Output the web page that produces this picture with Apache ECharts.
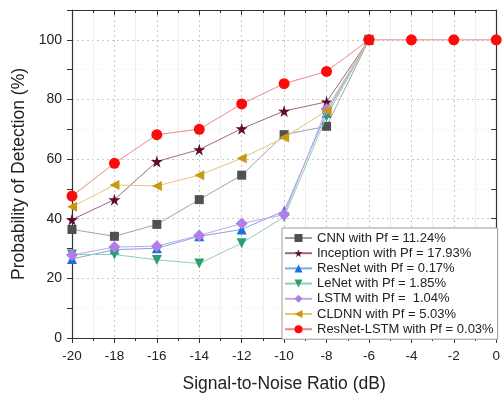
<!DOCTYPE html>
<html><head><meta charset="utf-8">
<script src="https://cdn.jsdelivr.net/npm/echarts@6/dist/echarts.min.js"></script>
<style>html,body{margin:0;padding:0;background:#fff}#c{width:503px;height:398px}</style>
</head><body><div id="c"></div>
<script>
var snr = [-20, -18, -16, -14, -12, -10, -8, -6, -4, -2, 0];
var cnn = [36.4, 34.1, 38.1, 46.4, 54.6, 68.2, 71.0, 100];
var inception = [39.7, 46.4, 59.2, 63.2, 70.2, 76.1, 79.2, 100];
var resnet = [26.5, 29.6, 30.1, 34.1, 36.4, 42.6, 75.5, 100];
var lenet = [28.0, 28.0, 26.2, 25.0, 31.8, 40.6, 74.3, 100];
var lstm = [27.8, 30.5, 30.8, 34.4, 38.4, 41.4, 76.8, 100];
var cldnn = [44.0, 51.3, 51.0, 54.6, 60.3, 67.2, 76.2, 100];
var resnetLstm = [47.6, 58.6, 68.2, 70.0, 78.5, 85.3, 89.4, 100, 100, 100, 100];
var names = ['CNN with Pf = 11.24%', 'Inception with Pf = 17.93%', 'ResNet with Pf = 0.17%',
  'LeNet with Pf = 1.85%', 'LSTM with Pf =  1.04%', 'CLDNN with Pf = 5.03%', 'ResNet-LSTM with Pf = 0.03%'];
var yTicks = [0, 20, 40, 60, 80, 100];

function pairs(v){ return v.map(function(y,i){ return [snr[i], y]; }); }
var star = 'path://M50,0 L61,35 L98,35 L68,57 L79,91 L50,70 L21,91 L32,57 L2,35 L39,35 Z';
var specs = [
  {d: cnn, sym: 'rect', size: 9, rot: 0, mc: '#505050', lc: '#a3a3a3'},
  {d: inception, sym: star, size: 12, rot: 0, mc: '#5e0b30', lc: '#9a6a84'},
  {d: resnet, sym: 'triangle', size: 10, rot: 0, mc: '#1a6fd9', lc: '#7fa9e6'},
  {d: lenet, sym: 'triangle', size: 10, rot: 180, mc: '#2e9e6e', lc: '#8fcfb3'},
  {d: lstm, sym: 'diamond', size: 12, rot: 0, mc: '#b07ee6', lc: '#c5a5ef'},
  {d: cldnn, sym: 'triangle', size: 10, rot: 90, mc: '#c99a10', lc: '#e2c870'},
  {d: resnetLstm, sym: 'circle', size: 11, rot: 0, mc: '#ff0a0a', lc: '#f08888'}
];
var series = specs.map(function(s, i){
  return {name: names[i], type: 'line', data: pairs(s.d), symbol: s.sym, symbolSize: s.size,
    symbolRotate: s.rot, showSymbol: true, z: 2 + i,
    itemStyle: {color: s.mc, opacity: 1}, lineStyle: {color: s.lc, width: 1}, emphasis: {disabled: true}};
});
var F = 'Liberation Sans, Arial, sans-serif';
var chart = echarts.init(document.getElementById('c'), null, {renderer: 'canvas'});
chart.setOption({
  animation: false,
  backgroundColor: '#fff',
  grid: {left: 72, right: 4, top: 10, bottom: 57},
  xAxis: [{
    type: 'value', min: -20, max: 0, interval: 2, position: 'bottom',
    name: 'Signal-to-Noise Ratio (dB)', nameLocation: 'middle', nameGap: 37,
    nameTextStyle: {fontFamily: F, fontSize: 17.5, color: '#222'},
    axisLine: {show: true, onZero: false, lineStyle: {color: '#333', width: 1.2}},
    axisTick: {show: true, inside: false, length: 5, lineStyle: {color: '#333'}},
    minorTick: {show: true, splitNumber: 2, length: 3, lineStyle: {color: '#333'}},
    axisLabel: {fontFamily: F, fontSize: 13.5, color: '#222', margin: 11},
    splitLine: {show: true, lineStyle: {color: '#c8c8c8', type: [2, 3], width: 1}},
    minorSplitLine: {show: true, lineStyle: {color: '#efefef', width: 1}}
  }, {
    type: 'value', min: -20, max: 0, interval: 2, position: 'top',
    axisLine: {show: true, onZero: false, lineStyle: {color: '#333', width: 1.2}},
    axisTick: {show: true, inside: true, length: 5, lineStyle: {color: '#333'}},
    minorTick: {show: true, splitNumber: 2, length: 3, lineStyle: {color: '#333'}},
    axisLabel: {show: false}, splitLine: {show: false}
  }],
  yAxis: [{
    type: 'value', min: 0, max: 110, interval: 10, position: 'left',
    name: 'Probability of Detection (%)', nameLocation: 'middle', nameGap: 34,
    nameTextStyle: {fontFamily: F, fontSize: 17.5, color: '#222'},
    axisLine: {show: true, onZero: false, lineStyle: {color: '#333', width: 1.2}},
    axisTick: {show: true, inside: false, length: 5, lineStyle: {color: '#333'}},
    axisLabel: {fontFamily: F, fontSize: 14, color: '#222', margin: 10,
      formatter: function(v){ return yTicks.indexOf(v) >= 0 ? String(v) : ''; }},
    splitLine: {show: true, lineStyle: {color: ['#c8c8c8', '#efefef'], type: [2, 3], width: 1}}
  }, {
    type: 'value', min: 0, max: 110, interval: 10, position: 'right',
    axisLine: {show: true, onZero: false, lineStyle: {color: '#333', width: 1.2}},
    axisTick: {show: true, inside: true, length: 5, lineStyle: {color: '#333'}},
    axisLabel: {show: false}, splitLine: {show: false}
  }],
  legend: {
    orient: 'vertical', left: 282, top: 228, data: names,
    backgroundColor: '#fff', borderColor: '#9a9a9a', borderWidth: 1, borderRadius: 0,
    padding: [3, 4, 3, 2], itemGap: 1.2, itemWidth: 27, itemHeight: 10,
    textStyle: {fontFamily: F, fontSize: 13, color: '#222', lineHeight: 14},
    selectedMode: false
  },
  series: series
});
</script></body></html>
